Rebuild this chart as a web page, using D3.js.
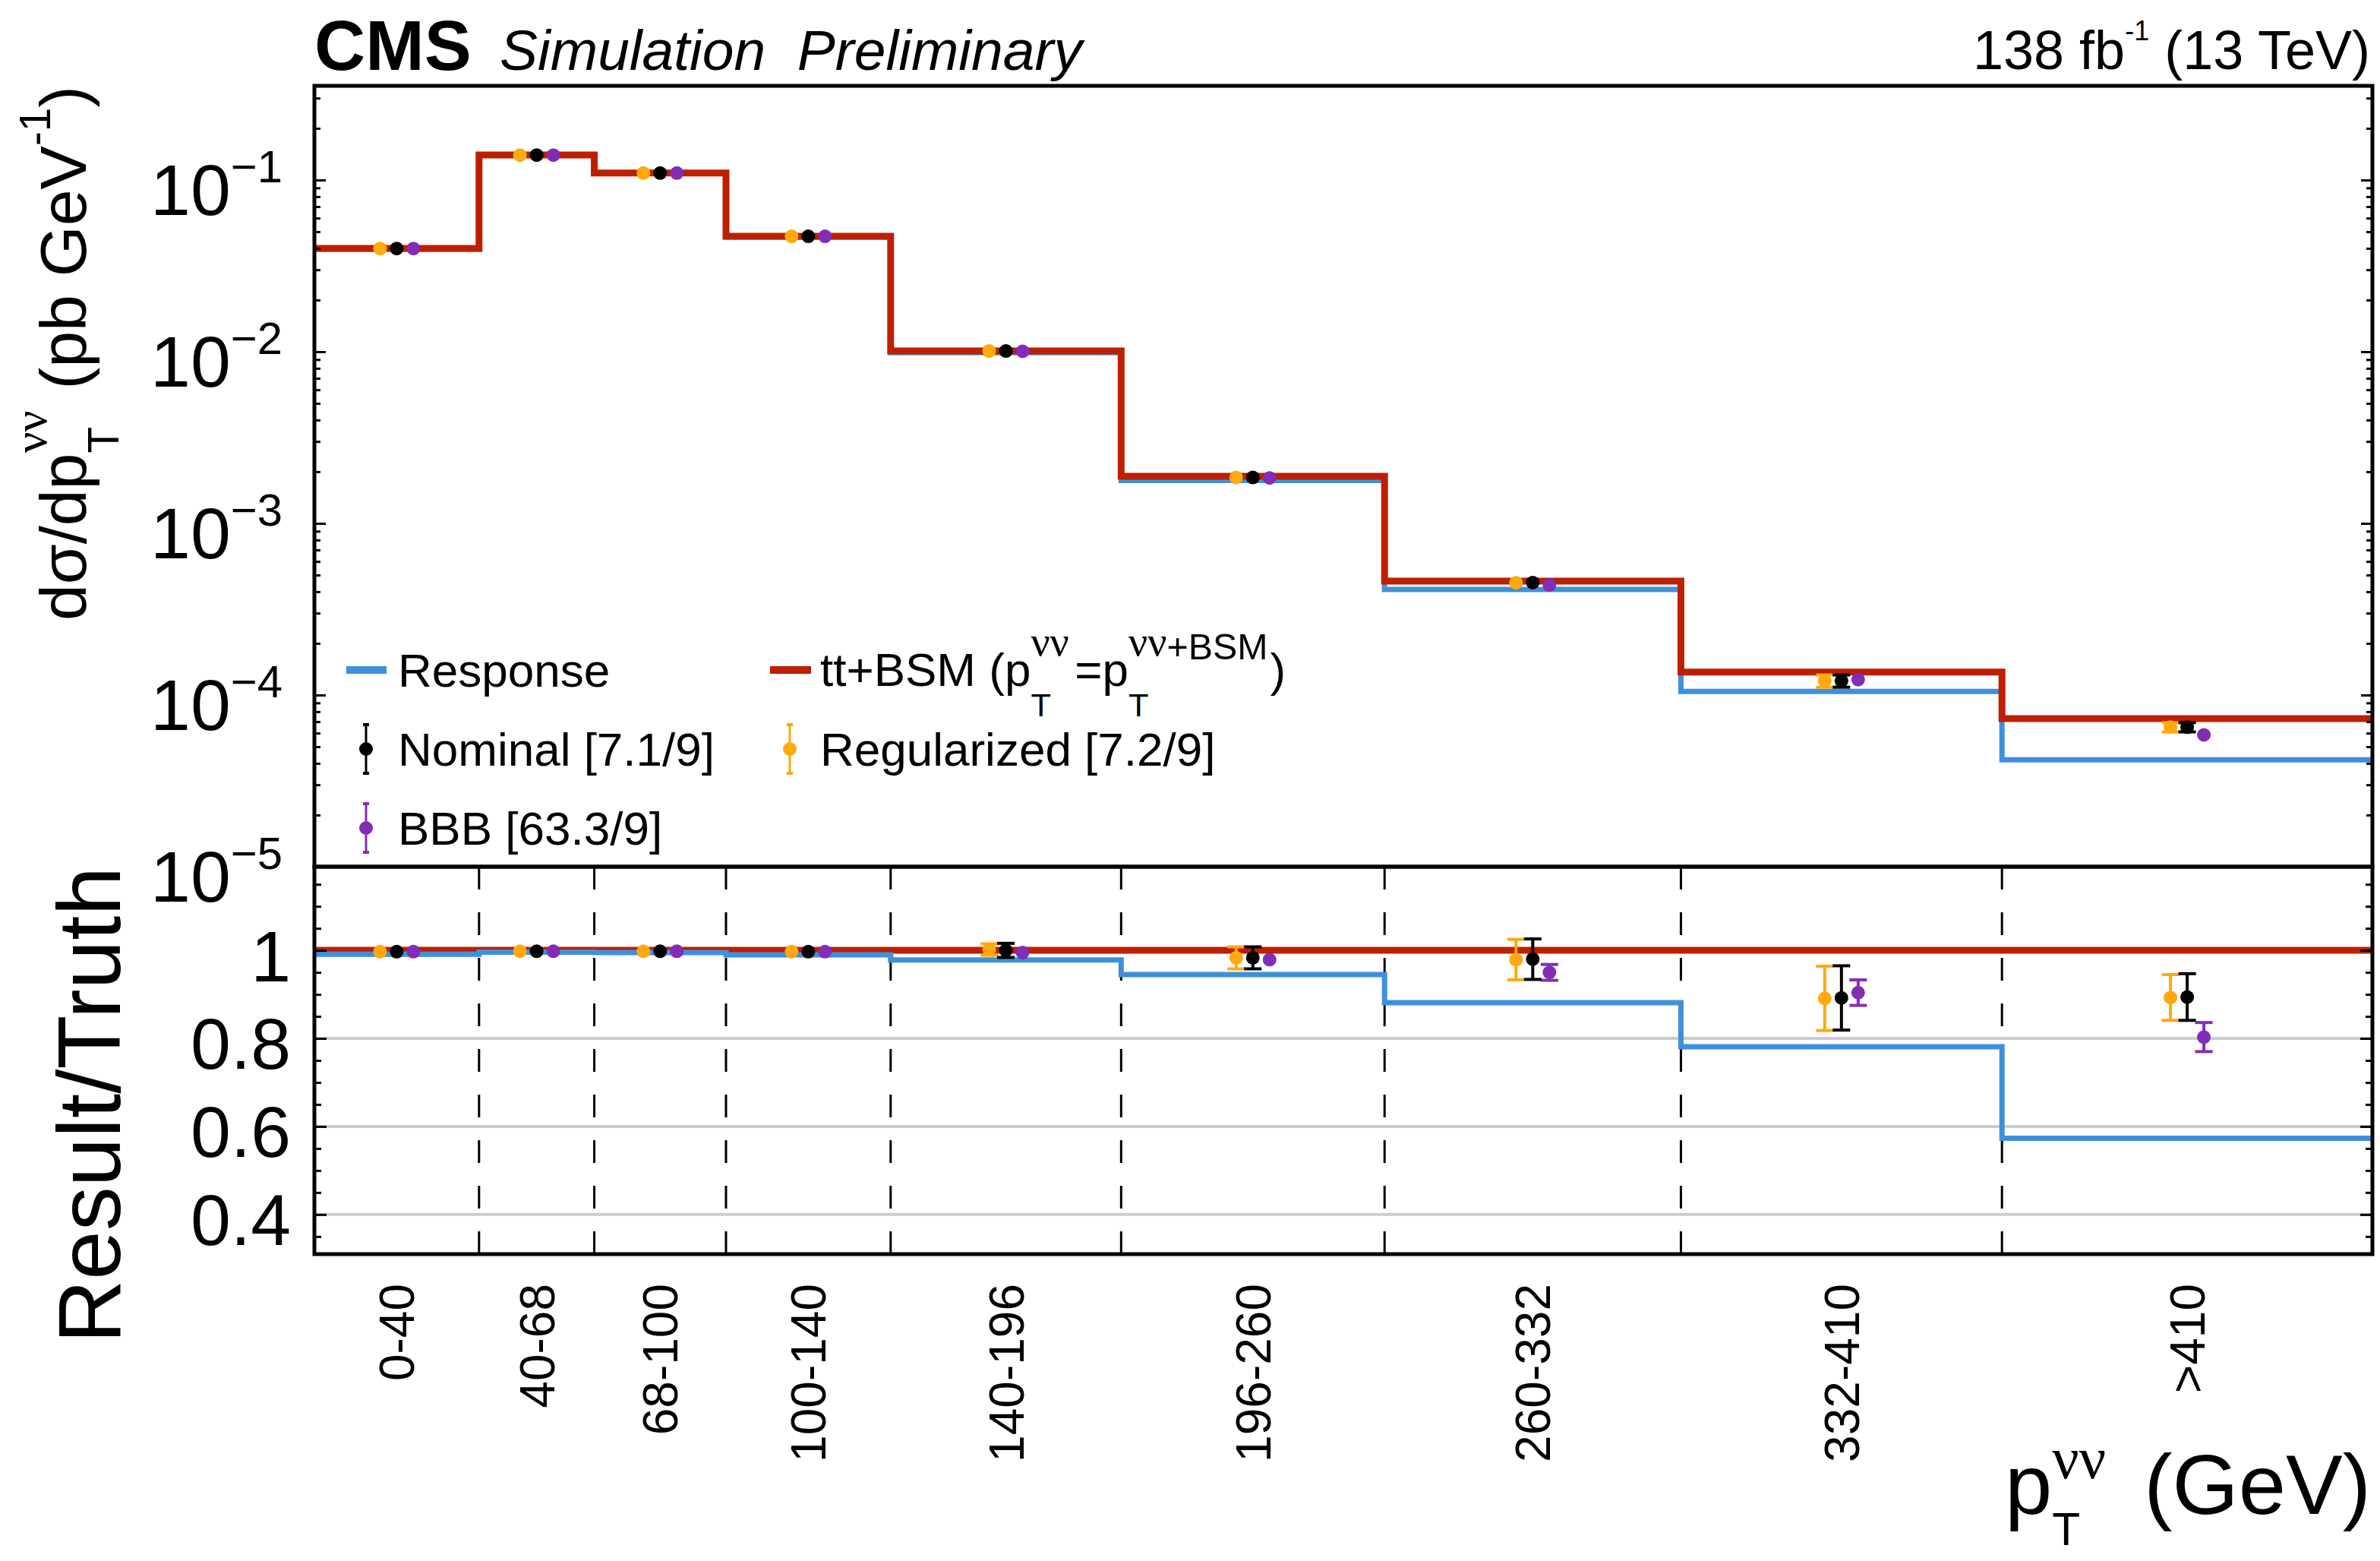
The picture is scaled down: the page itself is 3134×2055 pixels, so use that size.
<!DOCTYPE html>
<html>
<head>
<meta charset="utf-8">
<script src="https://cdn.jsdelivr.net/npm/d3@7"></script>
<style>
  body { margin: 0; background: #fff; }
  svg text { font-family: "Liberation Sans", Arial, Helvetica, sans-serif; fill: #000; }
</style>
</head>
<body>
<svg id="chart" width="3134" height="2055"></svg>
<script>
// ---- binning (GeV) and tick labels ----
const binEdges = [0, 40, 68, 100, 140, 196, 260, 332, 410, 500];
const binLabels = ["0-40", "40-68", "68-100", "100-140", "140-196", "196-260", "260-332", "332-410", ">410"];
const upperTickExponents = [-5, -4, -3, -2, -1];
const lowerTickValues = [0.4, 0.6, 0.8, 1];
const lowerTickLabels = ["0.4", "0.6", "0.8", "1"];

// ---- differential cross sections (pb/GeV) ----
const truthXsec    = [0.0400, 0.140, 0.110, 0.0471, 0.0101, 0.00188, 4.61e-4, 1.36e-4, 7.3e-5];
const responseXsec = [0.0396, 0.1394, 0.1095, 0.0466, 0.00988, 0.00178, 4.12e-4, 1.05e-4, 4.2e-5];
const nominalXsec     = [0.0399, 0.1397, 0.1098, 0.0470, 0.0101, 0.00185, 4.52e-4, 1.21e-4, 6.5e-5];
const nominalXsecErr  = [0.0002, 0.0006, 0.0005, 0.0002, 0.00016, 0.00005, 2.1e-5, 9.9e-6, 4.0e-6];
const regularizedXsec    = [0.0399, 0.1397, 0.1098, 0.0470, 0.0101, 0.00185, 4.51e-4, 1.21e-4, 6.5e-5];
const regularizedXsecErr = [0.0002, 0.0006, 0.0005, 0.0002, 0.00013, 0.00005, 2.1e-5, 9.9e-6, 4.0e-6];
const bbbXsec    = [0.0399, 0.1397, 0.1098, 0.0470, 0.01005, 0.00184, 4.38e-4, 1.23e-4, 5.86e-5];
const bbbXsecErr = [0.0001, 0.0004, 0.0003, 0.0001, 0.00004, 0.00001, 8e-6, 3.6e-6, 2.4e-6];

// ---- ratios to truth ----
const truthRatio    = [1, 1, 1, 1, 1, 1, 1, 1, 1];
const responseRatio = [0.991, 0.996, 0.995, 0.990, 0.978, 0.945, 0.881, 0.781, 0.573];
const nominalRatio     = [0.997, 0.998, 0.998, 0.997, 1.000, 0.983, 0.980, 0.892, 0.894];
const nominalRatioErr  = [0.004, 0.004, 0.004, 0.004, 0.016, 0.025, 0.046, 0.073, 0.053];
const regularizedRatio    = [0.997, 0.998, 0.998, 0.997, 1.002, 0.983, 0.979, 0.891, 0.893];
const regularizedRatioErr = [0.004, 0.004, 0.004, 0.004, 0.013, 0.025, 0.046, 0.073, 0.052];
const bbbRatio    = [0.997, 0.998, 0.998, 0.997, 0.995, 0.979, 0.950, 0.904, 0.803];
const bbbRatioErr = [0.003, 0.003, 0.003, 0.003, 0.004, 0.008, 0.018, 0.029, 0.033];

// ---- legend entries ----
const legendNominal = "Nominal [7.1/9]";
const legendRegularized = "Regularized [7.2/9]";
const legendBBB = "BBB [63.3/9]";

// ---- colours ----
const C_BLUE = "#3f90da", C_RED = "#bd1f01", C_ORANGE = "#ffa90e", C_PURPLE = "#832db6", C_BLACK = "#000000";

// ---- geometry ----
const xL = 414, xR = 3124, upTop = 113, split = 1141, lowBot = 1651;
const svg = d3.select("#chart");

const x = d3.scaleLinear().domain([0, 500]).range([xL, xR]);
const yU = d3.scaleLog().domain([1e-5, Math.pow(10, -5 + (split - upTop) / 226)]).range([split, upTop]);
const yL = d3.scaleLinear().domain([0.31, 1.19]).range([lowBot, split]);

const binCenter = i => (binEdges[i] + binEdges[i + 1]) / 2;

// ---- small rich-text layout: runs of pieces, with stacked sub/superscripts ----
const SERIF = "'Liberation Serif', 'DejaVu Serif', serif";
function layoutRun(g, run, x0, size, base) {
  let cx = x0;
  for (let it of run) {
    if (typeof it === "string") it = { t: it };
    if (it.stack) {
      let m = cx;
      for (const r of it.stack) m = Math.max(m, layoutRun(g, r, cx, size, base));
      cx = m;
      continue;
    }
    cx += (it.dx || 0) * size;
    const s = size * (it.s || 1);
    const t = g.append("text")
      .attr("x", cx)
      .attr("y", -(it.up || 0) * size)
      .attr("font-size", s)
      .style("white-space", "pre")
      .text(it.t);
    if (it.serif) t.style("font-family", SERIF);
    if (base.weight) t.attr("font-weight", base.weight);
    if (base.style) t.attr("font-style", base.style);
    cx += t.node().getComputedTextLength();
  }
  return cx;
}
function richText(parent, run, o) {
  const g = parent.append("g")
    .attr("transform", `translate(${o.x},${o.y})` + (o.rotate ? ` rotate(${o.rotate})` : ""));
  const inner = g.append("g");
  const w = layoutRun(inner, run, 0, o.size, o);
  const shift = o.anchor === "end" ? -w : o.anchor === "middle" ? -w / 2 : 0;
  inner.attr("transform", `translate(${shift},0)`);
  return g;
}

// ---- step histogram ----
function stepLine(g, yScale, vals, color, width) {
  const pts = vals.map((v, i) => [binEdges[i], v]);
  pts.push([binEdges[binEdges.length - 1], vals[vals.length - 1]]);
  const line = d3.line().x(d => x(d[0])).y(d => yScale(d[1])).curve(d3.curveStepAfter);
  g.append("path").datum(pts)
    .attr("d", line)
    .attr("fill", "none")
    .attr("stroke", color)
    .attr("stroke-width", width)
    .attr("stroke-linejoin", "miter");
}

// ---- points with error bars ----
const MARK_R = 9;
const OFFSET = 22;
function drawPoints(g, yScale, vals, errs, color, dx) {
  const data = vals.map((v, i) => ({ v, e: errs[i], i }));
  const pg = g.append("g").selectAll("g").data(data).join("g");
  pg.each(function (d) {
    const sel = d3.select(this);
    const cx = x(binCenter(d.i)) + dx;
    const yHi = yScale(d.v + d.e), yLo = yScale(d.v - d.e);
    if ((yLo - yHi) / 2 > 5) {
      sel.append("line").attr("x1", cx).attr("x2", cx).attr("y1", yHi).attr("y2", yLo)
        .attr("stroke", color).attr("stroke-width", 4);
      [yHi, yLo].forEach(yy => sel.append("line")
        .attr("x1", cx - 11.5).attr("x2", cx + 11.5).attr("y1", yy).attr("y2", yy)
        .attr("stroke", color).attr("stroke-width", 4));
    }
    sel.append("circle").attr("cx", cx).attr("cy", yScale(d.v)).attr("r", MARK_R).attr("fill", color);
  });
}

function tickAxis(g, axis, xPos) {
  const a = g.append("g").attr("transform", `translate(${xPos},0)`).call(axis);
  a.select(".domain").remove();
  a.selectAll(".tick line").attr("stroke", "#000").attr("stroke-width", 3);
  a.selectAll(".tick text").remove();
}

// =================== upper panel ===================
const up = svg.append("g");
stepLine(up, yU, responseXsec, C_BLUE, 7);
stepLine(up, yU, truthXsec, C_RED, 9);
drawPoints(up, yU, regularizedXsec, regularizedXsecErr, C_ORANGE, -OFFSET);
drawPoints(up, yU, bbbXsec, bbbXsecErr, C_PURPLE, OFFSET);
drawPoints(up, yU, nominalXsec, nominalXsecErr, C_BLACK, 0);

// log ticks
const upMajor = upperTickExponents.map(e => Math.pow(10, e));
const upMinor = [];
for (let e = -5; e <= 0; e++) for (let m = 2; m <= 9; m++) {
  const v = m * Math.pow(10, e);
  if (v < yU.domain()[1]) upMinor.push(v);
}
tickAxis(up, d3.axisLeft(yU).tickValues(upMajor).tickSize(-15).tickFormat(""), xL);
tickAxis(up, d3.axisLeft(yU).tickValues(upMinor).tickSize(-8).tickFormat(""), xL);
tickAxis(up, d3.axisRight(yU).tickValues(upMajor).tickSize(-15).tickFormat(""), xR);
tickAxis(up, d3.axisRight(yU).tickValues(upMinor).tickSize(-8).tickFormat(""), xR);

// tick labels 10^n
upperTickExponents.forEach(e => {
  richText(up, ["10", { t: "\u2212" + Math.abs(e), s: 0.63, up: 0.45 }],
    { x: 372, y: yU(Math.pow(10, e)) + 46, size: 95, anchor: "end" });
});

// y title
richText(up, ["d\u03c3/dp",
  { stack: [[{ t: "T", s: 0.66, up: -0.5 }], [{ t: "\u03bd\u03bd", s: 0.72, up: 0.6, serif: true }]] },
  { t: " (pb GeV", dx: 0.05 }, { t: "-1", s: 0.66, up: 0.55 }, ")"],
  { x: 113, y: upTop, size: 86, anchor: "end", rotate: -90 });

// frame
up.append("rect").attr("x", xL).attr("y", upTop).attr("width", xR - xL).attr("height", split - upTop)
  .attr("fill", "none").attr("stroke", "#000").attr("stroke-width", 5);

// legend
const lg = svg.append("g");
const LFS = 62;
lg.append("line").attr("x1", 456).attr("x2", 509).attr("y1", 882).attr("y2", 882)
  .attr("stroke", C_BLUE).attr("stroke-width", 10);
lg.append("text").attr("x", 524).attr("y", 904).attr("font-size", LFS).text("Response");
lg.append("line").attr("x1", 1014).attr("x2", 1068).attr("y1", 882).attr("y2", 882)
  .attr("stroke", C_RED).attr("stroke-width", 10);
richText(lg, ["tt+BSM (p",
  { stack: [[{ t: "T", s: 0.7, up: -0.65 }], [{ t: "\u03bd\u03bd", s: 0.9, up: 0.64, serif: true }]] },
  { t: "=p", dx: 0.12 },
  { stack: [[{ t: "T", s: 0.7, up: -0.65 }], [{ t: "\u03bd\u03bd", s: 0.9, up: 0.64, serif: true }, { t: "+BSM", s: 0.78, up: 0.57 }]] },
  { t: ")", dx: 0.05 }],
  { x: 1080, y: 903, size: LFS });

function legendMarker(cx, cy, color) {
  lg.append("line").attr("x1", cx).attr("x2", cx).attr("y1", cy - 32).attr("y2", cy + 32)
    .attr("stroke", color).attr("stroke-width", 3);
  [cy - 32, cy + 32].forEach(yy => lg.append("line").attr("x1", cx - 4).attr("x2", cx + 4)
    .attr("y1", yy).attr("y2", yy).attr("stroke", color).attr("stroke-width", 4));
  lg.append("circle").attr("cx", cx).attr("cy", cy).attr("r", MARK_R).attr("fill", color);
}
legendMarker(482, 986, C_BLACK);
lg.append("text").attr("x", 524).attr("y", 1008).attr("font-size", LFS).text(legendNominal);
legendMarker(1040, 986, C_ORANGE);
lg.append("text").attr("x", 1080).attr("y", 1008).attr("font-size", LFS).text(legendRegularized);
legendMarker(482, 1090, C_PURPLE);
lg.append("text").attr("x", 524).attr("y", 1112).attr("font-size", LFS).text(legendBBB);

// =================== lower panel ===================
const lo = svg.append("g");
// grid
lo.append("g").selectAll("line").data([0.4, 0.6, 0.8]).join("line")
  .attr("x1", xL).attr("x2", xR).attr("y1", d => yL(d)).attr("y2", d => yL(d))
  .attr("stroke", "#cccccc").attr("stroke-width", 4);
// dashed bin boundaries
lo.append("g").selectAll("line").data(binEdges.slice(1, -1)).join("line")
  .attr("x1", d => x(d)).attr("x2", d => x(d)).attr("y1", lowBot).attr("y2", split)
  .attr("stroke", "#000").attr("stroke-width", 3).attr("stroke-dasharray", "30,30");

stepLine(lo, yL, truthRatio, C_RED, 9);
stepLine(lo, yL, responseRatio, C_BLUE, 7);
drawPoints(lo, yL, regularizedRatio, regularizedRatioErr, C_ORANGE, -OFFSET);
drawPoints(lo, yL, bbbRatio, bbbRatioErr, C_PURPLE, OFFSET);
drawPoints(lo, yL, nominalRatio, nominalRatioErr, C_BLACK, 0);

// y ticks
const loMinor = d3.range(0.35, 1.19, 0.05).filter(v => Math.abs(v * 5 - Math.round(v * 5)) > 1e-6);
const la = lo.append("g").attr("transform", `translate(${xL},0)`)
  .call(d3.axisLeft(yL).tickValues(lowerTickValues).tickSize(-16).tickPadding(31)
    .tickFormat((d, i) => lowerTickLabels[i]));
la.select(".domain").remove();
la.selectAll(".tick line").attr("stroke", "#000").attr("stroke-width", 3);
la.selectAll(".tick text").attr("font-size", 95).attr("dy", "0.42em")
  .attr("font-family", "'Liberation Sans', Arial, sans-serif").attr("fill", "#000");
tickAxis(lo, d3.axisLeft(yL).tickValues(loMinor).tickSize(-9).tickFormat(""), xL);
tickAxis(lo, d3.axisRight(yL).tickValues(lowerTickValues).tickSize(-16).tickFormat(""), xR);
tickAxis(lo, d3.axisRight(yL).tickValues(loMinor).tickSize(-9).tickFormat(""), xR);

// y title
lo.append("text")
  .attr("transform", `translate(158,${split}) rotate(-90)`)
  .attr("text-anchor", "end")
  .attr("font-size", 116)
  .text("Result/Truth");

// frame
lo.append("rect").attr("x", xL).attr("y", split).attr("width", xR - xL).attr("height", lowBot - split)
  .attr("fill", "none").attr("stroke", "#000").attr("stroke-width", 5);

// x bin labels (rotated)
lo.append("g").selectAll("text").data(binLabels).join("text")
  .attr("transform", (d, i) => `translate(${x(binCenter(i)) + 23},1690) rotate(-90)`)
  .attr("text-anchor", "end")
  .attr("font-size", 64)
  .text(d => d);

// x title
richText(svg, ["p",
  { stack: [[{ t: "T", s: 0.54, up: -0.37 }], [{ t: "\u03bd\u03bd", s: 0.7, up: 0.42, serif: true }]] },
  { t: " (GeV)", dx: 0.17 }],
  { x: 3122, y: 1993, size: 112, anchor: "end" });

// header
svg.append("text").attr("x", xL).attr("y", 92).attr("font-size", 93).attr("font-weight", "bold").text("CMS");
svg.append("text").attr("x", 658).attr("y", 92).attr("font-size", 75).attr("font-style", "italic")
  .style("white-space", "pre").text("Simulation  Preliminary");
richText(svg, ["138 fb", { t: "-1", s: 0.5, up: 0.53 }, " (13 TeV)"],
  { x: 3121, y: 91, size: 72, anchor: "end" });
</script>
</body>
</html>
